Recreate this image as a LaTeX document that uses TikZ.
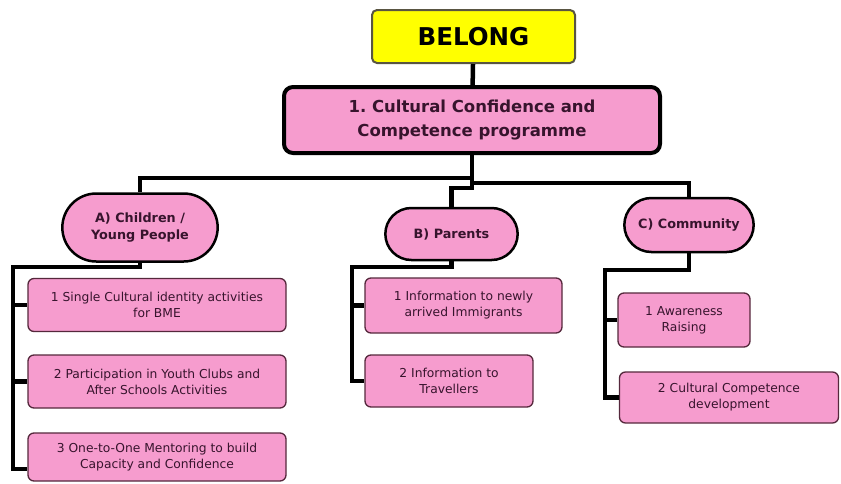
\documentclass[tikz,border=0pt]{standalone}
\usepackage{fontspec}
\setmainfont{DejaVu Sans}
\usetikzlibrary{positioning}
\usetikzlibrary{shapes.misc}
\definecolor{belongyellow}{RGB}{255,255,0}
\definecolor{belongpink}{RGB}{246,156,206}
\definecolor{belongtext}{RGB}{55,20,45}
\definecolor{belongedge}{RGB}{85,40,60}
\tikzset{topblock/.style={rectangle,draw=black!75!yellow,fill=belongyellow,rounded corners=5pt,line width=2pt,minimum width=203pt,minimum height=53pt,font=\fontsize{24.5}{28}\selectfont\bfseries}}
\tikzset{mainblock/.style={rectangle,draw=black,fill=belongpink,rounded corners=9pt,line width=4pt,minimum width=376pt,minimum height=66pt,align=center,text=belongtext,font=\fontsize{16.5}{24}\selectfont\bfseries}}
\tikzset{groupblock/.style={rounded rectangle,draw=black,fill=belongpink,line width=2.5pt,align=center,text=belongtext,font=\fontsize{12.8}{17}\selectfont\bfseries}}
\tikzset{itemblock/.style={rectangle,draw=belongedge,fill=belongpink,rounded corners=6pt,line width=1.3pt,align=center,text=belongtext,font=\fontsize{12.3}{16}\selectfont}}
\tikzset{link/.style={black,line width=4.5pt}}

\begin{document}
\frenchspacing
\begin{tikzpicture}[x=1pt,y=-1pt]
  \useasboundingbox (0,0) rectangle (841,483);

  % Top
  \node[topblock] (belong) at (473.5,36.5) {BELONG};
  \node[mainblock] (prog) at (472,120) {1. Cultural Confidence and\\Competence programme};

  % Groups
  \node[groupblock,minimum width=162pt,minimum height=68pt] (child) at (140,227.5) {A) Children /\\Young People};
  \node[groupblock,minimum width=139pt,minimum height=52pt] (parent) at (451.5,234) {B) Parents};
  \node[groupblock,minimum width=136pt,minimum height=54pt] (comm) at (689,225) {C) Community};

  % Items
  \node[itemblock,minimum width=258pt,minimum height=53pt] (child1) at (157,305) {1 Single Cultural identity activities\\for BME};
  \node[itemblock,minimum width=258pt,minimum height=53pt] (child2) at (157,381.5) {2 Participation in Youth Clubs and\\After Schools Activities};
  \node[itemblock,minimum width=258pt,minimum height=48pt] (child3) at (157,457) {3 One-to-One Mentoring to build\\Capacity and Confidence};
  \node[itemblock,minimum width=197pt,minimum height=55pt] (parent1) at (463.5,305.5) {1 Information to newly\\arrived Immigrants};
  \node[itemblock,minimum width=168pt,minimum height=52pt] (parent2) at (449,381) {2 Information to\\Travellers};
  \node[itemblock,minimum width=132pt,minimum height=54pt] (comm1) at (684,320) {1 Awareness\\Raising};
  \node[itemblock,minimum width=219pt,minimum height=51pt] (comm2) at (729,397.5) {2 Cultural Competence\\development};

  % Connectors
  \coordinate (lhub) at (472,178);
  \coordinate (rhub) at (472,183);
  \coordinate (childhub) at (13,267);
  \coordinate (parenthub) at (352,267);
  \coordinate (commhub) at (605,270);
  \draw[link] (belong) -- (prog);
  \draw[link] (prog.south) -- ++(0,33) -| (parent.north);
  \draw[link] (child.north) |- (lhub);
  \draw[link] (comm.north) |- (rhub);

  \draw[link] (child.south) |- (childhub) |- ([yshift=-12pt]child3.west);
  \foreach \n in {child1,child2}
    \draw[link] (childhub) |- (\n.west);
  \draw[link] (parent.south) |- (parenthub) |- (parent2.west);
  \draw[link] (parenthub) |- (parent1.west);
  \draw[link] (comm.south) |- (commhub) |- (comm2.west);
  \draw[link] (commhub) |- (comm1.west);
\end{tikzpicture}
\end{document}
